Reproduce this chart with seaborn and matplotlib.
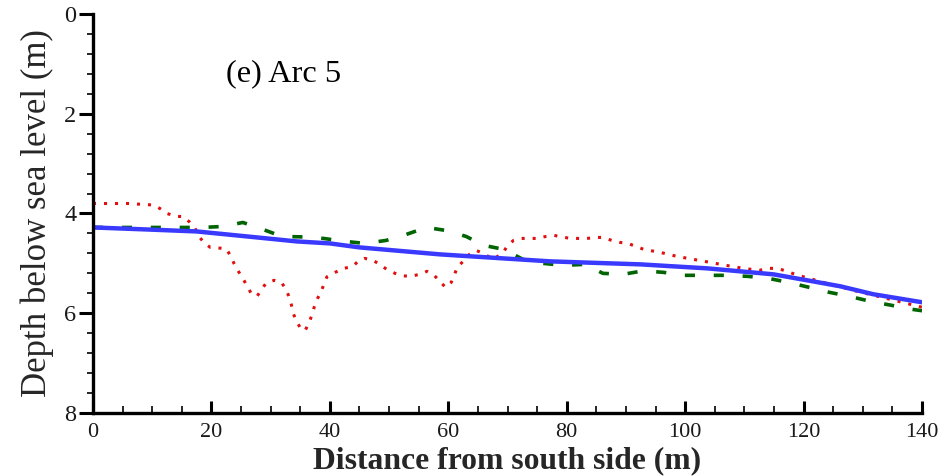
import matplotlib
matplotlib.use("Agg")
import matplotlib.pyplot as plt
from matplotlib.ticker import MultipleLocator
import seaborn as sns

# Bed profiles along Arc 5 (distance in m, depth below sea level in m)
blue_x = [0, 9, 17.5, 26, 34.4, 40, 45, 58.6, 77.2, 92.4, 103.7, 114.9, 120.6, 126.2, 131.8, 140]
blue_y = [4.28, 4.32, 4.36, 4.46, 4.56, 4.60, 4.68, 4.82, 4.96, 5.02, 5.10, 5.22, 5.34, 5.46, 5.62, 5.78]

red_x = [0, 3.2, 5.9, 8.8, 10.2, 11.3, 12.5, 14.1, 15.2, 16.3, 17.2, 17.9, 18.7, 19.8, 21.1, 22.5,
         23.3, 23.8, 24.5, 25.3, 26.0, 26.7, 27.7, 28.5, 29.2, 30.6, 31.8, 32.6, 33.1, 33.5, 33.8,
         34.4, 35.1, 35.8, 36.5, 37.0, 37.4, 37.9, 38.6, 39.5, 40.9, 42.3, 43.7, 44.8, 45.9, 47.3,
         48.4, 49.6, 51.0, 52.3, 53.7, 55.1, 56.4, 57.6, 58.6, 59.5, 60.5, 61.0, 61.5, 62.5, 63.3,
         64.7, 65.9, 67.6, 69.3, 69.9, 71.0, 72.3, 73.8, 75.0, 76.5, 77.9, 79.2, 80.6, 82.0, 83.4,
         84.9, 86.1, 87.6, 89.0, 90.3, 91.7, 93.0, 95.8, 98.6, 101.4, 104.2, 106.9, 109.8, 112.5,
         114.0, 115.4, 116.7, 118.1, 119.4, 123.3, 129.0, 134.6, 140]
red_y = [3.80, 3.80, 3.80, 3.82, 3.83, 3.90, 4.00, 4.06, 4.06, 4.17, 4.29, 4.46, 4.58, 4.68, 4.69, 4.71,
         4.86, 5.00, 5.15, 5.30, 5.45, 5.60, 5.66, 5.52, 5.40, 5.34, 5.38, 5.52, 5.67, 5.83, 6.00,
         6.17, 6.31, 6.35, 6.19, 6.02, 5.86, 5.71, 5.54, 5.27, 5.18, 5.10, 5.07, 4.96, 4.90, 4.94,
         5.02, 5.12, 5.20, 5.25, 5.26, 5.22, 5.16, 5.24, 5.36, 5.48, 5.38, 5.24, 5.08, 4.96, 4.84,
         4.74, 4.80, 4.92, 4.78, 4.66, 4.54, 4.50, 4.50, 4.50, 4.46, 4.44, 4.47, 4.50, 4.50, 4.50,
         4.48, 4.48, 4.54, 4.58, 4.60, 4.66, 4.72, 4.78, 4.86, 4.92, 4.98, 5.04, 5.10, 5.14,
         5.10, 5.10, 5.14, 5.20, 5.25, 5.38, 5.56, 5.72, 5.88]

green_x = [0, 5, 11.3, 14.6, 18.4, 22.0, 25.3, 28.7, 31.9, 35.5, 38.9, 42.6, 45.9, 49.5, 52.9, 56.3,
           59.6, 63.0, 66.0, 69.4, 72.6, 76.0, 79.4, 83.1, 86.1, 89.5, 92.9, 96.3, 99.8, 103.5, 107.0,
           110.5, 114.0, 117.4, 120.9, 124.3, 127.7, 131.2, 134.8, 138.2, 140]
green_y = [4.28, 4.28, 4.28, 4.28, 4.28, 4.26, 4.18, 4.32, 4.46, 4.47, 4.50, 4.56, 4.60, 4.54, 4.42, 4.28,
           4.34, 4.46, 4.64, 4.72, 4.92, 5.00, 5.04, 5.02, 5.20, 5.22, 5.15, 5.18, 5.24, 5.24, 5.24,
           5.26, 5.30, 5.38, 5.48, 5.58, 5.66, 5.76, 5.84, 5.92, 5.95]

x_ticks = [0, 20, 40, 60, 80, 100, 120, 140]
y_ticks = [0, 2, 4, 6, 8]
panel_label = "(e) Arc 5"

sns.set_style("white")
plt.rcParams["font.family"] = ["Liberation Serif", "DejaVu Serif"]

fig = plt.figure(figsize=(9.49, 4.76), dpi=100)
ax = fig.add_axes([0.098, 0.1324, 0.8736, 0.8382])

sns.lineplot(x=green_x, y=green_y, ax=ax, color="#006400", linewidth=2.6,
             linestyle=(0, (2.8, 5.2)), sort=False, estimator=None)
sns.lineplot(x=red_x, y=red_y, ax=ax, color="#e01010", linewidth=2.2,
             linestyle=(0, (1.0, 2.6)), sort=False, estimator=None)
sns.lineplot(x=blue_x, y=blue_y, ax=ax, color="#3a3aff", linewidth=3.2,
             sort=False, estimator=None)

ax.set_xlim(0, 140)
ax.set_ylim(8, 0)
ax.set_xticks(x_ticks)
ax.set_yticks(y_ticks)
ax.xaxis.set_minor_locator(MultipleLocator(5))
ax.yaxis.set_minor_locator(MultipleLocator(0.4))

for side in ("top", "right"):
    ax.spines[side].set_visible(False)
for side in ("left", "bottom"):
    ax.spines[side].set_linewidth(2.4)
    ax.spines[side].set_color("black")

ax.tick_params(axis="x", which="major", direction="in", length=9, width=2.2,
               labelsize=16, pad=7, colors="black", labelcolor="#1a1a1a")
ax.tick_params(axis="x", which="minor", direction="in", length=5, width=1.2, colors="black")
ax.tick_params(axis="y", which="major", direction="out", length=10, width=2.2,
               labelsize=17.5, pad=2, colors="black", labelcolor="#1a1a1a")
ax.tick_params(axis="y", which="minor", direction="out", length=4, width=1.2, colors="black")
ax.tick_params(left=True, bottom=True, which="both")

# x label sits at the very bottom of the figure, just under the tick labels
ax.set_xlabel("Distance from south side (m)", fontsize=22.8, fontweight="bold", va="bottom")
ax.xaxis.set_label_coords(0.5, -0.155)
ax.set_ylabel("Depth below sea level (m)", fontsize=25, labelpad=7)

ax.text(0.1605, 0.85, panel_label, transform=ax.transAxes, fontsize=23.3,
        ha="left", va="center", color="black")

fig.savefig("out.png", dpi=100, facecolor="white")
